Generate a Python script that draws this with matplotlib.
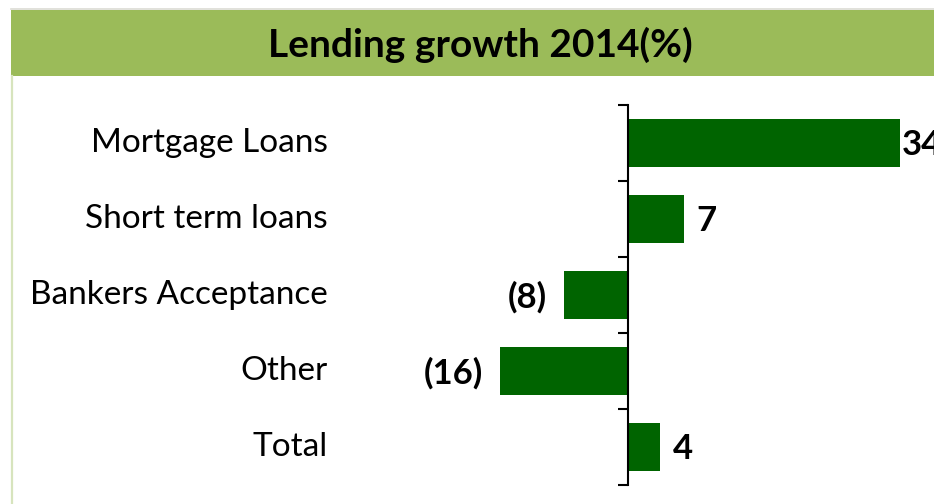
import matplotlib.pyplot as plt
import matplotlib.transforms as mtransforms
from matplotlib.patches import Rectangle

# lending growth by product, 2014 (%)
categories = ['Mortgage Loans', 'Short term loans', 'Bankers Acceptance', 'Other', 'Total']
growth = [34, 7, -8, -16, 4]
value_labels = ['34', '7', '(8)', '(16)', '4']

plt.rcParams['font.family'] = ['Lato', 'DejaVu Sans']

fig = plt.figure(figsize=(9.34, 5.04), dpi=100)
W, H = 934, 504

# outer frame lines (top and left)
fig.add_artist(plt.Line2D([11 / W, 1], [1 - 9 / H, 1 - 9 / H], color='#dcdcd4', lw=1.2))
fig.add_artist(plt.Line2D([12 / W, 12 / W], [0, 1 - 76 / H], color='#d7e4bd', lw=1.6))

# title banner
fig.add_artist(Rectangle((11 / W, 1 - 76 / H), 1 - 11 / W, 66 / H,
                         transform=fig.transFigure, facecolor='#9bbb59', edgecolor='none'))
fig.text(480 / W, 1 - 45 / H, 'Lending growth 2014(%)', ha='center', va='center',
         fontsize=28, fontweight='bold', color='black')

ax = fig.add_axes([340 / W, 19 / H, 1 - 340 / W, 380 / H])
y = range(len(categories))
ax.barh(y, growth, height=0.64, color='#006400')
xmin, xmax = -36, 38.25
ax.set_xlim(xmin, xmax)
ax.set_ylim(4.5, -0.5)

for s in ['top', 'right', 'bottom']:
    ax.spines[s].set_visible(False)
ax.spines['left'].set_position(('data', 0))
ax.spines['left'].set_linewidth(1.5)
ax.set_xticks([])
ax.set_yticks([i - 0.5 for i in range(len(categories) + 1)])
ax.set_yticklabels([])
ax.tick_params(axis='y', direction='out', length=7, width=1.5)

trans = mtransforms.blended_transform_factory(fig.transFigure, ax.transData)
for i, name in enumerate(categories):
    ax.text(328 / W, i, name, transform=trans, ha='right', va='center', fontsize=24)

for i, (v, lab) in enumerate(zip(growth, value_labels)):
    if v >= 0:
        # pull the label in when it would run past the plot edge
        ax.text(min(v + 1.6, xmax - 4.0), i + 0.03, lab, ha='left', va='center',
                fontsize=25, fontweight='bold', clip_on=False)
    else:
        ax.text(v - 2.1, i + 0.03, lab, ha='right', va='center', fontsize=25,
                fontweight='bold', clip_on=False)

fig.savefig('out.png', dpi=100)
